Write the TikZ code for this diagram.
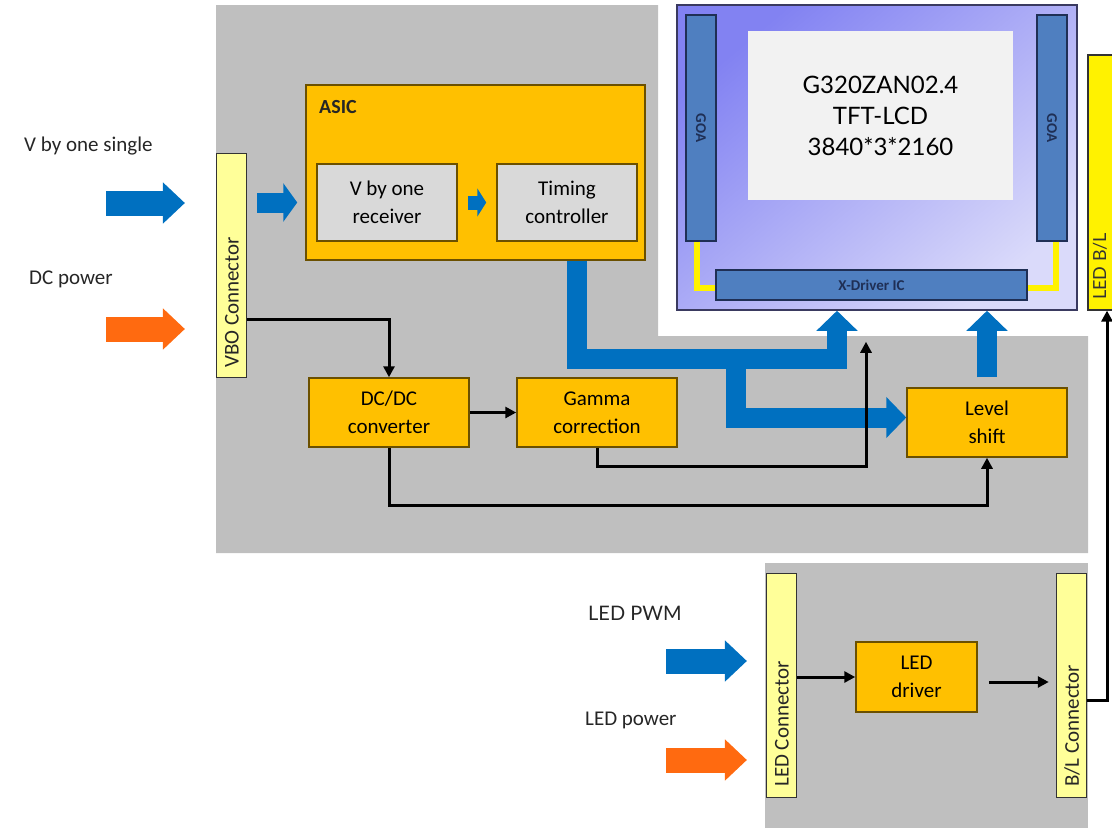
\documentclass[tikz,border=0pt]{standalone}
\usepackage{fontspec}
\setmainfont{Carlito}
\newfontfamily\gillfont{Lato}
\usetikzlibrary{arrows.meta}

\definecolor{panelgray}{HTML}{BFBFBF}
\definecolor{asicorange}{HTML}{FFC000}
\definecolor{boxedge}{HTML}{6B5000}
\definecolor{cellgray}{HTML}{D9D9D9}
\definecolor{connyellow}{HTML}{FFFF99}
\definecolor{sigblue}{HTML}{0070C0}
\definecolor{pwrorange}{HTML}{FF6A10}
\definecolor{goablue}{HTML}{4F7FC0}
\definecolor{goaedge}{HTML}{1F2F55}
\definecolor{lcdtop}{HTML}{8282F2}
\definecolor{lcdbot}{HTML}{DADAFA}
\definecolor{lcdedge}{HTML}{3A3A60}

\begin{document}
\begin{tikzpicture}[x=1pt,y=-1pt,inner sep=0pt]
  \tikzstyle{block}=[draw=boxedge,line width=1.5pt,fill=asicorange,align=center,font=\fontsize{21}{28}\selectfont]
  \tikzstyle{cell}=[block,fill=cellgray]
  \tikzstyle{conn}=[draw=black!80,line width=1.2pt,fill=connyellow,minimum width=30pt,minimum height=224pt]
  \tikzstyle{conntext}=[rotate=90,anchor=west,text=black!85,font=\fontsize{21}{25}\selectfont]
  \tikzstyle{goa}=[draw=goaedge,line width=1.2pt,fill=goablue]
  \tikzstyle{goatext}=[text=goaedge,font=\bfseries\fontsize{15}{18}\selectfont]
  \tikzstyle{bus}=[draw=sigblue,line width=20pt,-{Triangle[length=20pt,width=40pt]}]
  \tikzstyle{feed}=[draw=sigblue,line width=25pt,-{Triangle[length=22pt,width=40pt]}]
  \tikzstyle{power}=[feed,draw=pwrorange]
  \tikzstyle{sig}=[draw=black,line width=3pt,-{Triangle[length=11pt,width=11pt]}]
  \tikzstyle{wire}=[draw=yellow,line width=6pt]
  \tikzstyle{caption}=[anchor=west,text=black!85,font=\fontsize{21}{25}\selectfont]

  \useasboundingbox (0,0) rectangle (1112,828);

  % background panels
  \fill[panelgray] (216,5) -- (658,5) -- (658,336) -- (1088,336) -- (1088,553) -- (216,553) -- cycle;
  \fill[panelgray] (765,563) rectangle (1088,828);

  % panel
  \node[draw=lcdedge,line width=1.5pt,top color=lcdtop,bottom color=lcdbot,shading angle=40,
        minimum width=400pt,minimum height=305pt] (lcd) at (877,157.5) {};
  \node[fill=white!95!black,minimum width=265pt,minimum height=169pt,align=center,
        font=\gillfont\fontsize{24}{31}\selectfont] (scr) at (880.5,115.5)
        {G320ZAN02.4\\TFT-LCD\\3840*3*2160};
  \node[goa,minimum width=30pt,minimum height=226pt] (goaL) at (701,128) {};
  \node[goa,minimum width=30pt,minimum height=226pt] (goaR) at (1052,128) {};
  \node[goatext,rotate=-90] (goaLt) at (goaL) {GOA};
  \node[goatext,rotate=-90] (goaRt) at (goaR) {GOA};
  \draw[wire] ([xshift=-4]goaL.south) |- ([yshift=-3]goaL.south |- 0,285) -- (716,288);
  \draw[wire] ([xshift=4]goaR.south) |- (1027,288);
  \node[goa,minimum width=311pt,minimum height=30pt,goatext] (xdrv) at (871.5,285) {X-Driver IC};
  \node[draw=black!80,line width=1.2pt,fill=yellow,minimum width=50pt,minimum height=255pt] (ledbl) at (1113,182.5) {};
  \node[rotate=90,anchor=west,text=black!80,font=\gillfont\fontsize{18}{22}\selectfont] (ledblt) at (1100,300) {LED B/L};

  % T-con board
  \node[conn] (vbo) at (231.5,265.5) {};
  \node[conntext] (vbot) at (232,368) {VBO Connector};
  \node[block,minimum width=339pt,minimum height=175pt] (asic) at (475.5,172.5) {};
  \node[anchor=west,text=black!85,font=\bfseries\fontsize{20}{24}\selectfont] (asict) at (319,107) {ASIC};
  \node[cell,minimum width=140pt,minimum height=77pt] (rx) at (387,202.5) {V by one\\receiver};
  \node[cell,minimum width=140pt,minimum height=77pt] (tcon) at (567,202.5) {Timing\\controller};
  \node[block,minimum width=160pt,minimum height=69pt] (dcdc) at (389,412.5) {DC/DC\\converter};
  \node[block,minimum width=160pt,minimum height=69pt] (gamma) at (597,412.5) {Gamma\\correction};
  \node[block,minimum width=160pt,minimum height=69pt] (lvl) at (987,422.5) {Level\\shift};

  % backlight board
  \node[conn] (ledc) at (781.5,685.5) {};
  \node[conntext] (ledct) at (782,787) {LED Connector};
  \node[block,minimum width=121pt,minimum height=70pt] (drv) at (916.5,677) {LED\\driver};
  \node[conn] (blc) at (1071.5,685.5) {};
  \node[conntext] (blct) at (1072,787) {B/L Connector};

  % inputs
  \node[caption] (vbyone) at (24,146) {V by one single};
  \node[caption] (dcpwr) at (29,279) {DC power};
  \node[caption,font=\gillfont\fontsize{20}{24}\selectfont] (pwm) at (588,613) {LED PWM};
  \node[caption] (ledpwr) at (585,720) {LED power};
  \coordinate (vin) at (106,203);
  \coordinate (din) at (106,329);
  \coordinate (pin) at (666,661);
  \coordinate (lin) at (666,760);
  \draw[feed] (vin) -- ([xshift=-31]vbo.west |- vin);
  \draw[power] (din) -- ([xshift=-31]vbo.west |- din);
  \draw[feed] (pin) -- ([xshift=-19]ledc.west |- pin);
  \draw[power] (lin) -- ([xshift=-19]ledc.west |- lin);

  % video path
  \draw[bus,-{Triangle[length=14pt,width=38pt]}] ([xshift=10]vbo.east |- rx) -- ([xshift=-8]asic.west |- rx);
  \draw[bus,line width=14pt,-{Triangle[length=9pt,width=28pt]}] ([xshift=10]rx.east) -- ([xshift=-10]tcon.west);
  \draw[bus] ([xshift=10]tcon.south |- asic.south) |- ([xshift=-40,yshift=-48]lcd.south) -- ([xshift=-40]lcd.south);
  \coordinate (tap) at (736,358);
  \draw[bus] (tap) |- ([yshift=5]lvl.west);
  \draw[bus] ([yshift=10]lvl.north) -- (lvl.north |- lcd.south);

  % control and power lines
  \draw[sig] (vbo.east |- 0,319) -| (dcdc.north);
  \draw[sig] (dcdc.east) -- (gamma.west);
  \draw[sig] (gamma.south) -- ++(0,19) -| ([xshift=-11,yshift=-31]lcd.south);
  \draw[sig] (dcdc.south) -- ++(0,58) -| (lvl.south);
  \draw[sig] (ledc.east |- drv) -- (drv.west);
  \draw[sig] ([xshift=11,yshift=-5]drv.east) -- ++(60,0);
  \draw[sig] ([yshift=-15]blc.east) -| ([xshift=-6]ledbl.south);
\end{tikzpicture}
\end{document}
